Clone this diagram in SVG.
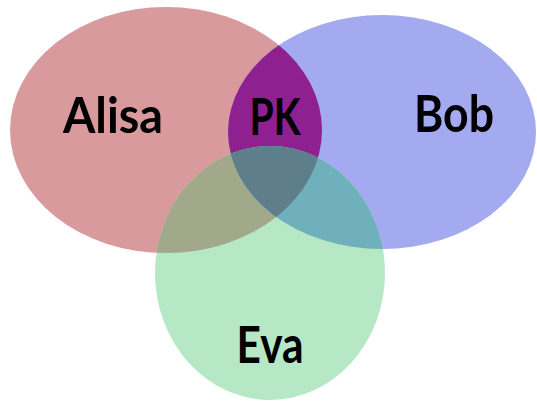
<svg xmlns="http://www.w3.org/2000/svg" width="537" height="404" viewBox="0 0 537 404">
<style>
.lbl{font-family:Lato,"Open Sans","Liberation Sans",sans-serif;font-weight:bold;fill:#000;text-anchor:middle}
</style>
<defs>
<ellipse id="eA" cx="166" cy="130" rx="156" ry="123"/>
<ellipse id="eB" cx="382" cy="132" rx="154" ry="117"/>
<ellipse id="eE" cx="270" cy="273" rx="115" ry="127"/>
<clipPath id="cA"><use href="#eA"/></clipPath>
<clipPath id="cB"><use href="#eB"/></clipPath>
<clipPath id="cE"><use href="#eE"/></clipPath>
</defs>
<rect width="537" height="404" fill="#fff"/>
<g id="alisa"><use href="#eA" fill="#d99a9e"/></g>
<g id="bob"><use href="#eB" fill="#a4aaf0"/></g>
<g id="eva"><use href="#eE" fill="#b7e8c5"/></g>
<g id="overlaps">
<g clip-path="url(#cA)"><use href="#eB" fill="#8e2090"/></g>
<g clip-path="url(#cA)"><use href="#eE" fill="#a2a88a"/></g>
<g clip-path="url(#cB)"><use href="#eE" fill="#70b0bc"/></g>
<g clip-path="url(#cA)"><g clip-path="url(#cB)"><use href="#eE" fill="#5e7e8b"/></g></g>
</g>
<g id="labels">
<text class="lbl" x="113" y="133" font-size="50" textLength="100" lengthAdjust="spacingAndGlyphs">Alisa</text>
<text class="lbl" x="275" y="135" font-size="52" textLength="51" lengthAdjust="spacingAndGlyphs">PK</text>
<text class="lbl" x="454" y="132" font-size="52" textLength="80" lengthAdjust="spacingAndGlyphs">Bob</text>
<text class="lbl" x="270" y="363" font-size="52" textLength="67" lengthAdjust="spacingAndGlyphs">Eva</text>
</g>
</svg>
